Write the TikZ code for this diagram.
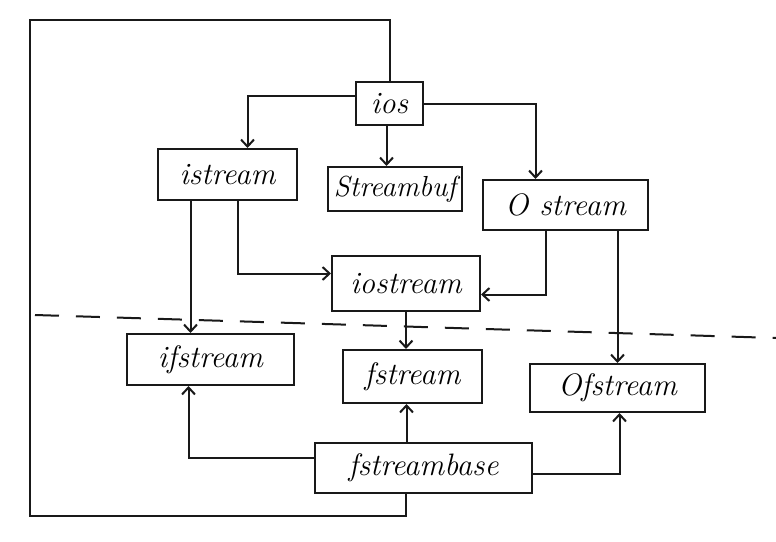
\documentclass[tikz,border=0pt]{standalone}
\usetikzlibrary{arrows.meta}
\begin{document}
\begin{tikzpicture}[x=1pt,y=-1pt,
  box/.style={draw=black!90, line width=2pt, inner sep=0pt, align=center,
    font=\itshape\fontsize{31}{33}\selectfont},
  arr/.style={draw=black!90, line width=2pt, -{Straight Barb[length=7pt,width=13pt,line width=2pt]}},
  conn/.style={draw=black!90, line width=2pt},
  sep/.style={draw=black!90, line width=2pt, dash pattern=on 24pt off 17pt}]
\useasboundingbox[fill=white] (0,0) rectangle (776,541);

% classes
\node[box, minimum width=67pt,  minimum height=43pt] (ios)         at (389.5,103.5) {ios};
\node[box, minimum width=139pt, minimum height=51pt] (istream)     at (227.5,174.5) {istream};
\node[box, minimum width=134pt, minimum height=44pt,
      font=\itshape\fontsize{29}{31}\selectfont]   (streambuf)   at (395,189)     {Streambuf};
\node[box, minimum width=165pt, minimum height=50pt] (ostream)     at (565.5,205)   {O stream};
\node[box, minimum width=148pt, minimum height=55pt] (iostream)    at (406,283.5)   {iostream};
\node[box, minimum width=167pt, minimum height=51pt] (ifstream)    at (210.5,359.5) {ifstream};
\node[box, minimum width=139pt, minimum height=53pt] (fstream)     at (412.5,376.5) {fstream};
\node[box, minimum width=175pt, minimum height=48pt] (ofstream)    at (617.5,388)   {Ofstream};
\node[box, minimum width=217pt, minimum height=50pt] (fstreambase) at (423.5,468)   {fstreambase};

% dashed separator
\coordinate (d1) at (35,315);
\coordinate (d2) at (776,338);
\draw[sep] (d1) -- (d2);

% loop from fstreambase back to ios
\coordinate (lb) at (30,516);
\coordinate (lt) at (30,20);
\draw[conn] ([xshift=-18pt]fstreambase.south) |- (lb) -- (lt) -| (ios.north);

% ios -> istream, streambuf, ostream
\draw[arr] ([yshift=8pt]ios.west) -| ([xshift=20pt]istream.north);
\draw[arr] ([xshift=-3pt]ios.south) -- ([xshift=-3pt]ios.south |- streambuf.north);
\draw[arr] (ios.east) -| ([xshift=-30pt]ostream.north);

% istream, ostream -> iostream
\draw[arr] ([xshift=10pt]istream.south) |- ([yshift=10pt]iostream.west);
\draw[arr] ([xshift=-20pt]ostream.south) |- ([yshift=-11pt]iostream.east);

% down to file streams
\draw[arr] ([xshift=-37pt]istream.south) -- ([xshift=-37pt]istream.south |- ifstream.north);
\draw[arr] (iostream.south) -- (iostream.south |- fstream.north);
\draw[arr] (ostream.south -| ofstream.north) -- (ofstream.north);

% fstreambase -> file streams
\draw[arr] ([yshift=10pt]fstreambase.west) -| ([xshift=-22pt]ifstream.south);
\draw[arr] ([xshift=-6pt]fstream.south |- fstreambase.north) -- ([xshift=-6pt]fstream.south);
\draw[arr] ([yshift=-6pt]fstreambase.east) -| ([xshift=2pt]ofstream.south);
\end{tikzpicture}
\end{document}
